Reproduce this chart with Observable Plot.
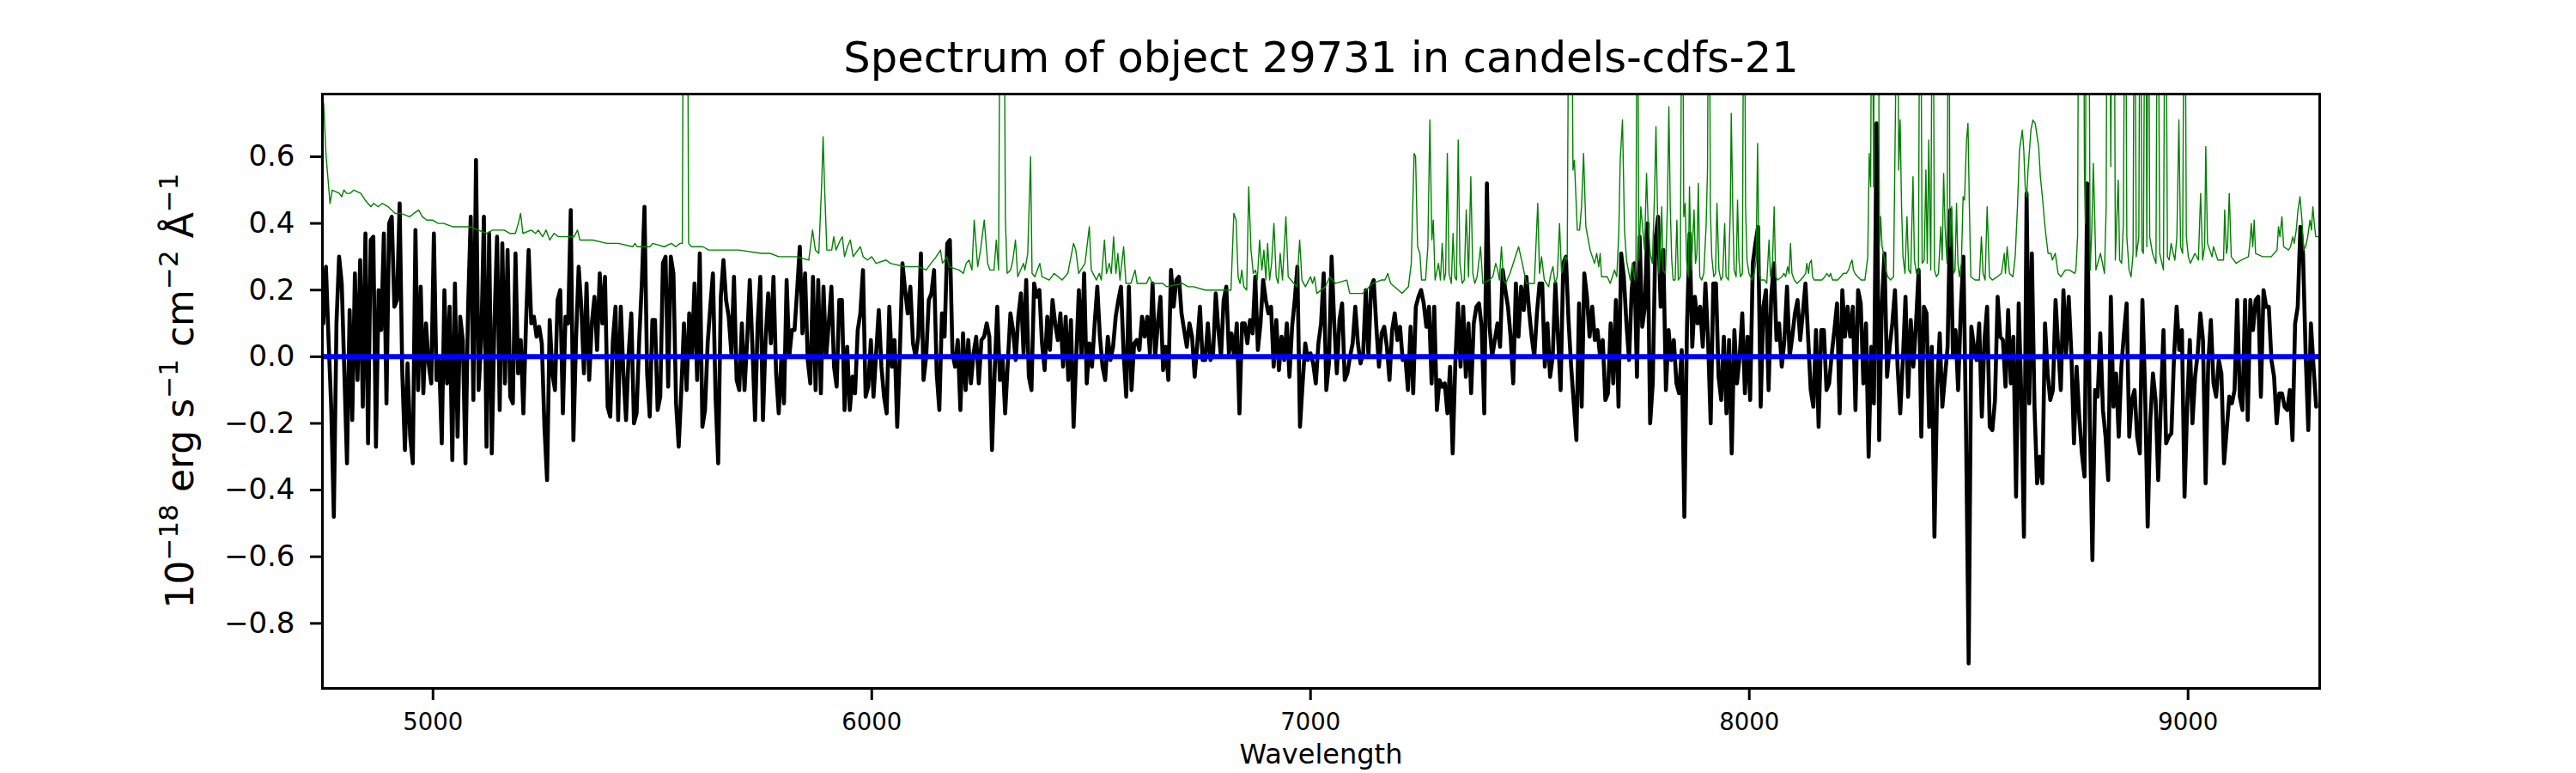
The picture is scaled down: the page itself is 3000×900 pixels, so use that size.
<!DOCTYPE html>
<html>
<head>
<meta charset="utf-8">
<script src="https://cdn.jsdelivr.net/npm/d3@7"></script>
<script src="https://cdn.jsdelivr.net/npm/@observablehq/plot@0.6"></script>
<style>
  html, body { margin: 0; padding: 0; background: #fff; }
  #chart { width: 3000px; height: 900px; }
</style>
</head>
<body>
<div id="chart"></div>
<script>
// ---------- DATA ----------
const titleText = "Spectrum of object 29731 in candels-cdfs-21";
const xLabelText = "Wavelength";
const xTicks = [5000, 6000, 7000, 8000, 9000];
const yTicks = [-0.8, -0.6, -0.4, -0.2, 0.0, 0.2, 0.4, 0.6];

// Observed flux (black), sampled on a regular wavelength grid
const waveStart = 4750;
const waveStep = 6;
const flux1 = [
0.10,0.27,0.05,-0.15,-0.48,0.10,0.30,0.22,-0.05,-0.32,
0.14,-0.19,0.25,-0.07,0.29,-0.15,0.37,-0.26,0.35,0.36,
-0.27,0.20,0.08,0.37,-0.14,0.40,0.42,0.15,0.17,0.46,
-0.05,-0.28,-0.02,-0.24,-0.32,0.38,-0.10,0.21,-0.11,0.10,
-0.02,-0.08,0.37,-0.07,-0.01,-0.26,0.20,-0.08,0.15,-0.31,
0.22,-0.24,0.12,0.05,-0.32,0.15,0.42,-0.13,0.59,-0.10,
0.05,0.42,-0.27,0.37,-0.29,0.10,0.36,-0.16,0.34,-0.08,
0.32,-0.12,-0.14,0.31,-0.05,0.05,-0.17,0.10,0.32,0.10,
0.12,0.06,0.09,0.04,-0.21,-0.37,0.11,-0.05,-0.10,0.17,
0.20,-0.17,0.12,0.10,0.44,-0.25,0.05,0.27,0.15,-0.05,
0.22,-0.07,0.10,0.18,0.02,0.25,0.10,0.24,-0.15,-0.18,
0.05,0.15,-0.19,0.15,-0.05,-0.19,0.01,0.13,-0.20,-0.17,
0.05,0.22,0.45,-0.05,-0.18,0.11
];
const flux2 = [
0.11,-0.16,-0.12,0.28,0.30,-0.09,0.30,0.25,-0.14,-0.27,
-0.10,0.10,-0.10,0.13,0.00,0.22,-0.07,0.31,-0.21,-0.16,
0.04,0.15,0.25,-0.12,-0.32,0.18,0.29,0.17,0.12,0.01,
0.24,-0.07,-0.10,0.10,-0.10,0.05,0.23,0.03,-0.19,0.10,
0.24,-0.19,0.05,0.19,0.04,0.24,-0.05,-0.17,0.00,-0.14,
0.23,0.00,0.08,0.08,0.20,0.33,0.07,0.25,-0.01,-0.08,
0.24,-0.10,0.23,-0.11,0.21,0.00,0.10,0.21,-0.03,-0.09,
0.17,0.17,-0.16,0.03,-0.16,-0.06,-0.11,0.08,0.13,0.26,
-0.12,-0.09,0.05,-0.12,0.01,0.14,-0.03,-0.12,-0.17,0.15,
-0.03,0.05,-0.21,0.01,0.28,0.20,0.13,0.21,0.04,0.00,
0.06,0.31,-0.07,0.00,0.17,0.19,0.26,-0.05,-0.16,0.13,
0.06,0.34,0.35,0.01,-0.03,0.05,-0.16,0.07,-0.10,0.05,
-0.08,0.01,0.06,-0.08,0.05,0.06,0.10
];
const flux3 = [
0.06,-0.28,-0.05,0.15,-0.07,0.00,-0.17,-0.02,0.13,0.08,
-0.01,0.12,0.19,0.01,0.23,-0.06,-0.10,0.22,0.18,0.20,
0.04,-0.04,0.12,0.02,0.17,0.10,0.05,0.13,-0.03,0.12,
-0.07,0.11,-0.21,0.00,0.20,0.00,0.25,-0.08,0.04,-0.03,
0.10,0.21,0.06,-0.03,-0.07,0.06,-0.01,0.03,0.12,0.17,
0.21,0.01,-0.12,0.21,-0.10,0.04,0.05,0.02,0.12,0.06,
0.12,0.01,0.22,0.00,0.10,0.18,-0.04,0.03,-0.07,0.26,
0.15,0.23,0.24,0.13,0.08,0.03,0.10,0.06,-0.06,0.04,
0.15,-0.01,-0.01,0.10,-0.01,0.01,0.19,0.08,0.00,0.17,
0.21,0.01,0.07,0.00,0.10,-0.17,0.10,0.10,0.04,0.11,
0.07,0.24,0.02,0.10,0.23,0.17,0.13,0.15,-0.03,0.11,
-0.04,0.06,-0.01,0.10,-0.06,0.09,0.17,0.27,-0.21,-0.08,
0.04,-0.01,0.01,-0.02,-0.08,0.04,0.10
];
const flux4 = [
0.25,-0.10,-0.02,0.30,0.10,-0.05,0.11,0.16,-0.07,-0.05,
0.00,0.04,0.15,0.04,-0.02,0.01,0.20,0.00,0.21,0.23,
0.09,-0.03,0.07,0.09,0.03,-0.07,0.08,0.13,0.05,0.09,
-0.01,0.00,-0.10,0.09,-0.11,0.15,0.18,0.20,0.16,0.09,
0.15,-0.08,0.15,-0.16,-0.07,-0.09,-0.08,-0.17,-0.03,-0.29,
-0.02,0.16,-0.03,0.15,-0.06,0.10,-0.11,0.10,0.15,0.16,
0.09,-0.17,0.52,0.09,0.00,0.05,0.10,0.03,0.26,0.20,
0.15,0.06,-0.08,0.22,0.06,0.21,0.14,0.24,0.14,0.06,
0.00,0.13,0.22,0.22,-0.03,0.10,-0.06,0.00,0.22,0.06,
-0.10,0.28,0.30,0.11,-0.03,-0.14,-0.25,0.16,-0.15,0.25,
0.18,0.06,0.15,0.05,0.08,0.00,0.05,-0.13,-0.11,0.10,
-0.08,0.17,-0.15,0.31,0.24,0.10,-0.01,0.20,0.28,-0.06,
0.36,0.09,0.15,0.40,-0.20,-0.08,0.35
];
const flux5 = [
0.42,0.15,0.32,-0.10,0.08,-0.01,0.05,-0.08,-0.11,0.02,
-0.48,0.09,0.37,0.03,0.18,0.10,0.15,0.03,0.22,0.05,
-0.20,0.22,0.22,-0.06,-0.13,0.06,-0.17,0.05,-0.29,0.08,
-0.08,0.00,0.13,-0.11,0.06,-0.13,0.28,0.34,0.39,-0.15,
0.15,0.20,-0.10,0.18,0.28,0.05,0.10,-0.03,0.05,0.21,
0.00,0.06,0.13,0.17,0.05,0.13,0.22,0.06,-0.10,-0.15,
0.08,-0.21,0.08,0.08,-0.10,-0.08,0.01,0.08,0.16,-0.17,
0.20,0.06,0.15,0.06,0.15,-0.16,0.20,0.16,-0.08,0.10,
-0.30,0.03,-0.14,0.70,-0.25,0.15,0.31,-0.06,0.03,0.10,
0.20,-0.03,-0.17,-0.01,0.18,-0.12,0.11,-0.03,0.10,0.26,
-0.24,0.15,0.13,-0.21,0.03,-0.54,-0.10,0.07,-0.15,-0.06,
0.03,0.44,0.01,0.08,-0.10,0.14,0.30,-0.22,-0.92,0.09,
0.03,-0.01,0.10,-0.18,0.05,0.15,-0.21
];
const flux6 = [
-0.22,-0.13,0.18,0.06,0.05,-0.09,0.14,-0.08,0.06,-0.42,
0.16,-0.12,-0.54,0.49,-0.14,0.31,-0.15,-0.38,-0.30,-0.38,
0.10,-0.05,-0.13,-0.10,0.17,0.03,-0.10,0.20,0.01,0.18,
0.01,-0.26,-0.03,-0.18,-0.29,-0.36,0.52,-0.18,-0.61,-0.10,
-0.12,0.07,-0.16,-0.24,-0.37,0.18,-0.15,-0.05,-0.24,-0.03,
0.07,0.16,-0.24,-0.13,-0.10,-0.24,-0.29,0.17,-0.10,-0.51,
-0.19,-0.05,-0.13,-0.37,-0.14,0.08,-0.26,-0.24,-0.23,0.00,
0.15,0.02,0.08,-0.42,-0.15,0.05,-0.20,-0.06,0.01,0.13,
0.05,-0.38,-0.02,0.11,-0.08,-0.12,-0.01,-0.05,-0.32,-0.22,
-0.12,-0.14,-0.10,0.17,-0.12,-0.16,0.17,-0.19,0.17,0.08,
0.17,0.18,-0.12,0.20,0.15,0.15,-0.01,-0.06,-0.20,-0.11,
-0.11,-0.15,-0.16,-0.10,-0.25,0.10,0.15,0.39,0.31,0.01,
-0.22,0.10,-0.03,-0.15
];

// Sky / noise spectrum (green): [wavelength, flux]; spikes leave the top of the frame
const sky1 = [[4750.8,0.76],[4756,0.61],[4765.2,0.46],[4770.4,0.50],[4786.7,0.49],[4792,0.48],[4797,0.50],[4803,0.49],[4810.9,0.49],[4819.3,0.50],[4835.6,0.49],[4845.4,0.47],[4858.5,0.45],[4865,0.46],[4874.8,0.45],[4884.6,0.46],[4897.6,0.45],[4913.9,0.43],[4927,0.43],[4946.5,0.42],[4956.3,0.43],[4967.4,0.44],[4975.9,0.42],[4985.7,0.41],[4998.7,0.41],[5011.8,0.40],[5024.8,0.40],[5044.4,0.39],[5083.5,0.39],[5103.1,0.38],[5122.7,0.37],[5135.7,0.38],[5161.8,0.38],[5174.9,0.37],[5187.9,0.37],[5194.4,0.40],[5199.6,0.43],[5204.9,0.37],[5223.8,0.38],[5233.6,0.37],[5240.1,0.38],[5249.9,0.36],[5257.7,0.38],[5266.2,0.35],[5276,0.37],[5285.7,0.36],[5311.8,0.36],[5321.6,0.36],[5329.4,0.38],[5334.7,0.35],[5364,0.35],[5396.6,0.34],[5422.7,0.34],[5455.3,0.33],[5460.6,0.34],[5465.1,0.33],[5494.5,0.33]];
const sky2 = [[5501,0.34],[5527.1,0.33],[5543.4,0.34],[5553.2,0.33],[5563,0.34],[5568.2,0.34],[5571.4,1.5],[5579.3,1.5],[5582.5,0.34],[5589.1,0.33],[5605.4,0.33],[5615.2,0.33],[5628.2,0.32],[5651,0.32],[5696.7,0.32],[5748.9,0.31],[5768.4,0.31],[5788,0.30],[5827.2,0.30],[5856.5,0.29],[5865,0.38],[5871.5,0.32],[5879.3,0.31],[5885.9,0.52],[5889.1,0.66],[5892.4,0.51],[5897.6,0.32],[5908.7,0.32],[5913.3,0.36],[5918.5,0.32],[5928.3,0.35],[5932.8,0.36],[5938,0.30],[5944.6,0.33],[5951.1,0.35],[5957.6,0.30],[5973.9,0.33],[5980.4,0.30],[5990.2,0.29],[6000,0.30],[6009.8,0.28],[6032.6,0.29],[6042.4,0.28],[6075,0.27],[6107.6,0.27],[6124,0.26],[6135,0.28],[6146.8,0.30],[6156.6,0.32],[6161.1,0.28],[6171.6,0.30],[6176.1,0.27],[6199,0.26],[6208.7,0.25],[6215.3,0.28],[6221.8,0.29],[6228.3,0.26],[6233.5,0.41],[6241.4,0.27],[6247.9,0.32],[6256.4,0.41],[6264.2,0.28]];
const sky3 = [[6269.4,0.26],[6278.6,0.26],[6283.8,0.35],[6289,0.26],[6293.6,1.5],[6300.1,1.5],[6304.6,0.41],[6308.6,0.25],[6316.4,0.26],[6321.6,0.29],[6327.5,0.35],[6332.7,0.24],[6345.7,0.28],[6349,0.26],[6355.5,0.31],[6362,0.60],[6365.3,0.25],[6371.8,0.24],[6382.9,0.28],[6388.1,0.24],[6404.4,0.23],[6415.5,0.25],[6433.8,0.23],[6446.8,0.25],[6459.9,0.34],[6465.1,0.32],[6471.6,0.25],[6486,0.28],[6495.8,0.39],[6500.3,0.26],[6512,0.23],[6518.6,0.25],[6523.2,0.23],[6530.3,0.35],[6535,0.25],[6541.4,0.28],[6546,0.25],[6551.2,0.36],[6556.4,0.25],[6561,0.31],[6565.6,0.23],[6574,0.33],[6579.3,0.22],[6590.4,0.22],[6600.1,0.26],[6604.7,0.22],[6626.2,0.22],[6632.8,0.24],[6639.3,0.22],[6663.4,0.22],[6671.9,0.21],[6707.8,0.22],[6720.8,0.21],[6733.9,0.21],[6760,0.20],[6792.6,0.20],[6818.7,0.20],[6825.2,0.43],[6830.4,0.41],[6835,0.24],[6839.5,0.22],[6843.4,0.26],[6848,0.21],[6854.5,0.20],[6859.1,0.51],[6864.3,0.32],[6869.5,0.25],[6874.8,0.26],[6878.7,0.23],[6883.9,0.35],[6889.1,0.26],[6893.7,0.32],[6898.3,0.23],[6902.2,0.34],[6906.7,0.23],[6911.3,0.28],[6916.5,0.40],[6921.7,0.24],[6926.3,0.22],[6930.9,0.31],[6936.1,0.23],[6943.9,0.42],[6949.1,0.24],[6962.2,0.22],[6968.7,0.21],[6975.2,0.35],[6980.4,0.23],[6988.3,0.21],[7000,0.24],[7004.6,0.22],[7009.1,0.24],[7014.3,0.19],[7033.9,0.21],[7043.7,0.24]];
const sky4 = [[7056.8,0.22],[7082.8,0.23],[7089.4,0.19],[7118.7,0.19],[7141.6,0.22],[7161.1,0.23],[7169.6,0.23],[7176.1,0.25],[7182.6,0.22],[7200.3,0.20],[7208.7,0.19],[7223.1,0.21],[7229.6,0.28],[7236.1,0.61],[7239.4,0.60],[7244,0.33],[7249.2,0.31],[7253.1,0.23],[7262.2,0.23],[7267.4,0.33],[7272,0.71],[7276.6,0.35],[7279.8,0.41],[7283.8,0.23],[7291.6,0.28],[7296.1,0.23],[7300.1,0.34],[7304.6,0.23],[7307.9,0.25],[7311.8,0.61],[7315.7,0.25],[7320.9,0.22],[7324.8,0.37],[7328.8,0.24],[7332.7,0.23],[7336.6,0.65],[7340.5,0.28],[7345.7,0.22],[7350.3,0.23],[7354.9,0.44],[7360.1,0.24],[7365.3,0.54],[7369.9,0.25],[7374.4,0.22],[7379.6,0.24],[7387.5,0.33],[7392.7,0.22],[7407,0.23],[7415.5,0.24],[7422,0.28],[7426.6,0.26],[7430.5,0.23],[7435.1,0.33],[7439.7,0.23],[7444.9,0.22],[7454.7,0.25],[7464.4,0.29],[7474.2,0.33],[7482.7,0.28],[7491.8,0.22],[7510.1,0.22],[7517.9,0.46],[7521.8,0.25],[7526.4,0.30],[7532.9,0.23],[7542.7,0.21],[7547.9,0.25],[7552.5,0.27],[7557.1,0.22],[7562.3,0.24],[7567.5,0.40],[7572.1,0.25],[7580.6,0.30],[7585.1,0.29],[7589.7,1.5],[7593.6,1.5],[7598.2,0.56],[7601.4,0.59],[7608,0.38],[7613.2,0.38],[7617.7,0.45],[7622.3,0.61],[7627.5,0.39],[7637.3,0.32],[7647.1,0.28],[7652.3,0.31],[7656.9,0.27],[7660.1,0.31],[7663.4,0.24],[7676.4,0.24],[7683,0.22],[7692.8,0.26],[7698,0.24],[7702.5,0.37],[7705.8,0.59],[7711,0.71],[7715.6,0.38],[7720.1,0.29],[7728.6,0.23],[7733.2,0.28],[7738.4,0.23],[7741.7,0.29],[7744.9,1.5],[7748.2,0.29],[7752.8,0.45],[7756.7,0.39],[7761.3,0.32],[7765.8,0.55],[7769.7,0.39],[7774.3,0.31],[7778.9,0.28],[7784.1,0.49],[7787.3,0.69],[7790.6,0.45]];
const sky5 = [[7793.9,0.25],[7797.1,0.31],[7800.4,0.45],[7803.6,0.26],[7808.9,0.25],[7813.4,0.45],[7816.7,0.75],[7819.9,0.45],[7823.2,0.29],[7826.5,0.23],[7831,0.23],[7835,0.41],[7838.2,0.23],[7842.8,0.24],[7847.4,1.5],[7850.6,0.42],[7853.9,0.46],[7857.1,0.29],[7861,0.24],[7863.7,0.51],[7867.6,0.26],[7870.2,0.33],[7874.1,0.44],[7877.4,0.28],[7880.6,0.31],[7883.9,0.52],[7887.1,0.24],[7891.7,0.23],[7896.3,0.25],[7901.5,0.39],[7904.8,0.56],[7908,1.5],[7911.3,0.44],[7914.5,0.30],[7919.1,0.24],[7923,0.25],[7926.3,0.46],[7930.8,0.26],[7935.4,0.23],[7939.3,0.24],[7943.9,0.40],[7947.1,0.24],[7952.4,0.23],[7956.9,0.45],[7958.9,0.73],[7962.2,0.45],[7965.4,0.26],[7970,0.24],[7973.2,0.47],[7976.5,0.29],[7979.8,0.24],[7984.3,0.25],[7988.2,1.5],[7991.5,0.45],[7994.8,0.29],[7999.3,0.25],[8005.9,0.23],[8011.1,0.25],[8015.6,0.29],[8018.9,0.64],[8022.2,0.26],[8025.4,0.23],[8035.2,0.23],[8039.8,0.22],[8045,0.35],[8048.3,0.24],[8052.8,0.28],[8056.7,0.45],[8060,0.24],[8064.6,0.23],[8074.4,0.24],[8078.9,0.25],[8082.8,0.24],[8087.4,0.27],[8090.7,0.25],[8093.9,0.34],[8097.2,0.25],[8102.4,0.23],[8108.9,0.22],[8116.8,0.23],[8123.3,0.24],[8128.5,0.25],[8131.1,0.28],[8135,0.25],[8137.6,0.28],[8141.5,0.29],[8144.2,0.24],[8148.1,0.23],[8165.7,0.23],[8172.2,0.24],[8176.8,0.25],[8182,0.24],[8185.2,0.25],[8189.8,0.23],[8201.5,0.23],[8208.1,0.24],[8214.6,0.25],[8221.1,0.25],[8226.3,0.26],[8230.9,0.28],[8234.2,0.29],[8237.4,0.26],[8240.7,0.25],[8247.2,0.24],[8255,0.23],[8263.5,0.23],[8270,0.30],[8273.3,0.61],[8276.6,0.51],[8279.8,1.5],[8283.1,0.51],[8286.4,1.5],[8292.9,1.5],[8296.8,0.33],[8299.4,0.42],[8302.7,0.33],[8305.9,0.31],[8311.1,0.26],[8315.7,0.24],[8322.2,0.23],[8328.8,0.24],[8333.3,0.76],[8337.2,1.5],[8340.5,0.56],[8343.8,0.71],[8347,0.45],[8350.3,0.30],[8354.8,0.25],[8359.4,0.42],[8363.3,0.26],[8367.9,0.25],[8373.1,0.54],[8376.4,0.29],[8381,0.25],[8385.5,0.25],[8389.4,1.5],[8394,0.28],[8398.6,0.29],[8402.5,0.56],[8405.7,0.28],[8409,0.65],[8413.6,0.26],[8418.1,1.5],[8422,0.26],[8426.6,0.24],[8431.2,0.25],[8436.4,0.39],[8439.7,0.29],[8442.9,0.55],[8446.2,0.39],[8450.7,0.28],[8454.6,1.5],[8457.3,0.33],[8461.2,0.45],[8465.7,0.25],[8469,0.26],[8472.3,0.46],[8475.5,0.28],[8478.8,0.24],[8483.4,0.28],[8487.3,0.48],[8490.5,0.47],[8495.1,0.65],[8498.4,0.70],[8501.6,0.45],[8504.9,0.24],[8514.7,0.23],[8524.4,0.23],[8529,0.36],[8532.9,0.25],[8537.5,0.23],[8542.1,0.45],[8547.3,0.24]];
const sky6 = [[8553.8,0.23],[8565.5,0.24],[8574.7,0.25],[8581.2,0.31],[8583.8,0.25],[8587.7,0.33],[8592.9,0.25],[8600.8,0.24],[8606,0.30],[8611.2,0.45],[8615.8,0.62],[8622.3,0.68],[8625.6,0.62],[8628.8,0.51],[8632.1,0.48],[8635.3,0.56],[8641.9,0.68],[8646.4,0.71],[8651.6,0.70],[8659.5,0.63],[8663.4,0.54],[8668,0.48],[8672.5,0.41],[8676.4,0.36],[8681,0.31],[8687.5,0.31],[8690.8,0.29],[8697.3,0.31],[8703.8,0.25],[8710.4,0.24],[8720.1,0.26],[8729.9,0.26],[8741.7,0.25],[8744.3,0.26],[8748.2,0.36],[8751.4,1.5],[8761.2,1.5],[8763.8,0.56],[8765.8,0.40],[8769.1,1.5],[8773,1.5],[8776.9,0.26],[8780.8,0.39],[8784.1,0.58],[8787.3,0.42],[8790,0.26],[8800.4,0.31],[8809.5,0.25],[8813.4,0.45],[8816,1.5],[8820,1.5],[8823.9,0.57],[8827.8,1.5],[8831,1.5],[8834.3,0.29],[8840.8,0.53],[8844.1,0.29],[8848.6,0.28],[8852.6,0.40],[8857.1,1.5],[8860.4,0.36],[8865.6,0.26],[8870.2,0.24],[8874.7,0.31],[8878,1.5],[8881.9,0.30],[8887.8,0.36],[8891,1.5],[8895,0.32],[8898.2,0.31],[8902.8,1.5],[8906,0.33],[8909.3,1.5],[8912.6,0.36],[8919.1,0.31],[8926.9,0.28],[8930.8,1.5],[8935.4,0.31],[8943.9,0.26],[8948.4,1.5],[8953,0.30],[8956.9,0.29],[8961.5,0.34],[8966.1,0.31],[8970,0.29],[8974.5,0.36],[8979.1,0.71],[8983,0.33],[8987.6,0.31],[8992.1,1.5],[8996.1,0.36],[9000.6,0.30],[9005.2,0.28],[9015.6,0.31],[9023.5,0.29],[9028.7,0.49],[9033.2,0.29],[9037.8,0.33],[9040.4,0.63],[9044.3,0.34],[9054.8,0.30],[9058,0.33],[9067.8,0.29],[9080.9,0.29],[9083.5,0.44],[9087.4,0.31],[9090,0.33],[9093.9,0.49],[9098.5,0.30],[9109.6,0.28],[9121.3,0.29],[9137.6,0.30],[9140.9,0.34],[9144.1,0.40],[9147.4,0.33],[9150.7,0.41],[9153.9,0.31],[9170.2,0.30],[9189.8,0.30],[9196.3,0.31],[9202.8,0.32],[9206.1,0.39],[9209.4,0.36],[9213.9,0.42],[9217.9,0.33],[9229,0.32],[9233.5,0.33],[9238.7,0.36],[9242,0.34],[9246.6,0.38],[9250.5,0.44],[9255.1,0.48],[9259.6,0.41],[9263.5,0.32],[9268.1,0.33],[9272.7,0.36],[9277.9,0.41],[9281.2,0.38],[9284.4,0.45],[9287.7,0.40],[9291,0.36],[9296.1,0.36]];

// ---------- BUILD ----------
const fluxAll = [...flux1, ...flux2, ...flux3, ...flux4, ...flux5, ...flux6];
const spectrum = fluxAll.map((f, i) => ({wave: waveStart + i * waveStep, flux: f}));
const sky = [...sky1, ...sky2, ...sky3, ...sky4, ...sky5, ...sky6].map(([w, f]) => ({wave: w, flux: f}));

const fmtY = d => (d < 0 ? "\u2212" : "") + Math.abs(d).toFixed(1);

const chart = Plot.plot({
  width: 3000,
  height: 900,
  marginLeft: 375,
  marginRight: 299,
  marginTop: 109,
  marginBottom: 99,
  style: {fontFamily: "'DejaVu Sans', sans-serif", background: "white", color: "black"},
  x: {domain: [4748, 9300]},
  y: {domain: [-0.995, 0.788]},
  marks: [
    Plot.line(spectrum, {x: "wave", y: "flux", stroke: "black", strokeWidth: 4.6, clip: true}),
    Plot.line(sky, {x: "wave", y: "flux", stroke: "#008000", strokeWidth: 1.4, clip: true}),
    Plot.ruleY([0], {stroke: "#0000ff", strokeWidth: 6}),
    Plot.frame({stroke: "black", strokeWidth: 3}),
    Plot.axisX({ticks: xTicks, tickSize: 14, tickPadding: 15, fontSize: 27.5, strokeWidth: 3, label: null, tickFormat: d => String(d)}),
    Plot.axisY({ticks: yTicks, tickSize: 14, tickPadding: 18, fontSize: 34, strokeWidth: 3, label: null, tickFormat: fmtY}),
    Plot.text([titleText], {text: d => d, frameAnchor: "top", lineAnchor: "bottom", dy: -26, fontSize: 49.5, fill: "black"}),
    Plot.text([xLabelText], {text: d => d, frameAnchor: "bottom", lineAnchor: "bottom", dy: 87, fontSize: 32, fill: "black"})
  ]
});

document.getElementById("chart").appendChild(chart);

// y-axis label with superscripts (real SVG text)
const svg = d3.select(chart);
const yl = svg.append("text")
  .attr("transform", "translate(225,455) rotate(-90)")
  .attr("text-anchor", "middle")
  .attr("font-family", "'DejaVu Sans', sans-serif")
  .attr("font-size", 44)
  .attr("fill", "black");
const parts = [
  ["10", false], ["\u221218", true], [" erg s", false], ["\u22121", true],
  [" cm", false], ["\u22122", true], [" \u00C5", false], ["\u22121", true]
];
let raised = false;
for (const [t, sup] of parts) {
  const ts = yl.append("tspan").text(t);
  if (sup) {
    ts.attr("font-size", 31);
    if (!raised) { ts.attr("dy", -18); raised = true; }
  } else {
    if (raised) { ts.attr("dy", 18); raised = false; }
  }
}
</script>
</body>
</html>
